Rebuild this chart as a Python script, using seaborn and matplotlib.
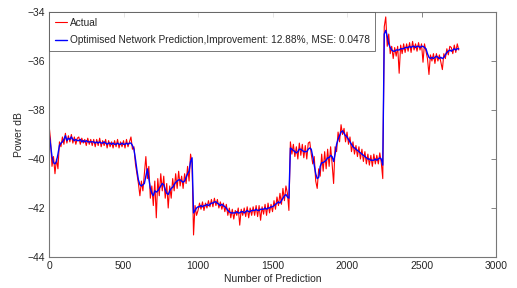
import numpy as np
import pandas as pd
import seaborn as sns
import matplotlib
matplotlib.use('Agg')
import matplotlib.pyplot as plt

# indice de prediccion (cada 10 muestras)
n_prediction = np.arange(0, 2760, 10)

actual = [
    -38.6, -39.2, -40.3, -39.9, -40.6, -40.0, -40.4, -39.3, -39.5, -39.1,      # 0
    -39.4, -38.95, -39.35, -39.05, -39.3, -39.0, -39.35, -39.1, -39.4, -39.15,  # 100
    -39.1, -39.4, -39.15, -39.35, -39.2, -39.45, -39.15, -39.4, -39.2, -39.45,  # 200
    -39.2, -39.5, -39.2, -39.45, -39.15, -39.5, -39.25, -39.45, -39.2, -39.55,  # 300
    -39.25, -39.5, -39.3, -39.55, -39.25, -39.5, -39.2, -39.55, -39.3, -39.5,   # 400
    -39.25, -39.55, -39.2, -39.5, -39.3, -39.1, -39.6, -39.5, -40.2, -40.6,    # 500
    -41.0, -41.5, -40.9, -41.3, -40.6, -39.9, -40.8, -40.3, -41.6, -41.1,      # 600
    -41.9, -40.9, -42.4, -40.8, -41.5, -40.6, -41.3, -40.7, -41.6, -41.0,      # 700
    -42.0, -41.1, -41.6, -40.8, -41.3, -40.6, -41.2, -40.5, -41.1, -40.7,      # 800
    -41.2, -40.6, -41.0, -40.3, -40.9, -39.8, -40.2, -43.1, -41.9, -42.3,      # 900
    -42.1, -41.8, -42.05, -41.75, -42.1, -41.8, -42.0, -41.7, -41.95, -41.65,  # 1000
    -41.95, -41.6, -41.9, -41.65, -42.0, -41.75, -42.05, -41.8, -42.15, -41.85,  # 1100
    -42.3, -42.0, -42.4, -42.05, -42.45, -42.1, -42.3, -42.0, -42.7, -42.05,   # 1200
    -42.3, -42.0, -42.35, -41.95, -42.4, -42.0, -42.3, -41.95, -42.3, -41.9,   # 1300
    -42.35, -41.9, -42.5, -41.95, -42.25, -41.85, -42.3, -41.8, -42.2, -41.85,  # 1400
    -42.15, -41.7, -42.05, -41.55, -41.9, -41.4, -41.85, -41.2, -41.7, -41.1,  # 1500
    -41.4, -42.1, -39.3, -39.8, -39.4, -39.9, -39.5, -40.0, -39.35, -39.85,    # 1600
    -39.4, -39.95, -39.45, -40.0, -39.35, -39.3, -39.8, -40.2, -39.9, -40.9,   # 1700
    -41.2, -40.4, -40.7, -39.8, -40.5, -39.7, -40.4, -39.6, -40.3, -39.5,      # 1800
    -40.2, -41.0, -39.5, -39.7, -38.9, -39.3, -38.6, -39.0, -38.75, -39.3,     # 1900
    -38.9, -39.4, -39.1, -39.7, -39.3, -39.8, -39.45, -39.9, -39.5, -40.0,     # 2000
    -39.6, -40.1, -39.7, -40.2, -39.8, -40.25, -39.85, -40.3, -39.8, -40.2,    # 2100
    -39.85, -40.2, -39.75, -40.15, -40.8, -34.6, -34.2, -35.4, -34.9, -35.7,   # 2200
    -35.4, -35.9, -35.45, -35.8, -35.4, -36.5, -35.35, -35.7, -35.3, -35.65,   # 2300
    -35.3, -35.6, -35.25, -35.65, -35.2, -35.55, -35.3, -35.6, -35.25, -35.55,  # 2400
    -35.3, -36.05, -35.3, -35.6, -35.9, -36.55, -35.75, -36.0, -35.7, -36.1,   # 2500
    -35.7, -36.0, -35.75, -36.05, -36.35, -35.7, -35.9, -35.5, -35.75, -35.4,  # 2600
    -35.45, -35.7, -35.35, -35.65, -35.3, -35.55,                              # 2700
]

# prediccion de la red optimizada (dB)
predicted = [
    -38.95, -39.4, -39.9, -40.15, -40.2, -40.1, -39.8, -39.45, -39.35, -39.3,  # 0
    -39.2, -39.05, -39.25, -39.15, -39.2, -39.1, -39.2, -39.25, -39.2, -39.25,  # 100
    -39.25, -39.2, -39.3, -39.25, -39.3, -39.25, -39.3, -39.3, -39.3, -39.3,  # 200
    -39.3, -39.35, -39.3, -39.35, -39.3, -39.35, -39.35, -39.3, -39.35, -39.4,  # 300
    -39.35, -39.35, -39.4, -39.35, -39.4, -39.4, -39.35, -39.4, -39.4, -39.35,  # 400
    -39.4, -39.4, -39.35, -39.4, -39.35, -39.35, -39.45, -39.6, -40.0, -40.45,  # 500
    -40.85, -41.05, -41.1, -41.05, -41.0, -40.7, -40.4, -40.8, -41.2, -41.4,  # 600
    -41.5, -41.3, -41.35, -41.3, -41.2, -41.1, -41.0, -41.05, -41.25, -41.4,  # 700
    -41.45, -41.3, -41.2, -41.15, -41.05, -40.95, -40.9, -40.85, -40.85, -40.9,  # 800
    -40.95, -40.9, -40.75, -40.6, -40.5, -40.1, -39.95, -42.2, -42.1, -42.0,  # 900
    -41.95, -41.95, -41.9, -41.95, -41.9, -41.9, -41.85, -41.9, -41.85, -41.8,  # 1000
    -41.8, -41.75, -41.75, -41.8, -41.85, -41.9, -41.85, -41.9, -41.95, -42.0,  # 1100
    -42.1, -42.15, -42.2, -42.2, -42.2, -42.2, -42.15, -42.2, -42.2, -42.15,  # 1200
    -42.15, -42.2, -42.15, -42.1, -42.15, -42.15, -42.1, -42.1, -42.1, -42.05,  # 1300
    -42.1, -42.1, -42.05, -42.05, -42.05, -42.0, -42.05, -42.0, -42.0, -41.95,  # 1400
    -41.95, -41.9, -41.85, -41.8, -41.75, -41.8, -41.7, -41.6, -41.5, -41.45,  # 1500
    -41.55, -41.6, -39.55, -39.6, -39.65, -39.7, -39.75, -39.7, -39.6, -39.6,  # 1600
    -39.65, -39.7, -39.7, -39.7, -39.6, -39.55, -39.6, -39.9, -40.25, -40.6,  # 1700
    -40.8, -40.75, -40.3, -40.15, -40.15, -40.1, -40.05, -39.95, -39.95, -39.85,  # 1800
    -39.9, -40.1, -39.8, -39.4, -39.2, -39.05, -38.9, -38.85, -38.95, -39.05,  # 1900
    -39.1, -39.2, -39.3, -39.4, -39.5, -39.55, -39.6, -39.65, -39.7, -39.75,  # 2000
    -39.8, -39.85, -39.9, -39.95, -40.0, -40.0, -40.05, -40.05, -40.05, -40.0,  # 2100
    -40.05, -40.0, -39.95, -40.0, -40.25, -34.9, -34.75, -35.0, -35.3, -35.45,  # 2200
    -35.55, -35.6, -35.6, -35.55, -35.55, -35.55, -35.5, -35.5, -35.5, -35.45,  # 2300
    -35.45, -35.45, -35.4, -35.45, -35.4, -35.4, -35.45, -35.4, -35.4, -35.45,  # 2400
    -35.4, -35.4, -35.45, -35.5, -35.7, -35.85, -35.9, -35.85, -35.9, -35.85,  # 2500
    -35.8, -35.85, -35.9, -35.85, -35.9, -35.85, -35.75, -35.65, -35.6, -35.55,  # 2600
    -35.6, -35.55, -35.5, -35.55, -35.5, -35.5,                                # 2700
]

x_ticks = [0, 500, 1000, 1500, 2000, 2500, 3000]
y_ticks = [-44, -42, -40, -38, -36, -34]

df = pd.DataFrame({'n': n_prediction, 'actual': actual, 'predicted': predicted})

sns.set_style('white')
plt.rcParams['font.family'] = ['Liberation Sans', 'DejaVu Sans']

fig = plt.figure(figsize=(5.17, 2.88), dpi=100)
ax = fig.add_axes([0.0948, 0.1076, 0.8646, 0.8507])

sns.lineplot(x='n', y='actual', data=df, ax=ax, color='#ff0000', lw=0.8,
             estimator=None, sort=False, label='Actual')
sns.lineplot(x='n', y='predicted', data=df, ax=ax, color='#0000ff', lw=1.0,
             estimator=None, sort=False,
             label='Optimised Network Prediction,Improvement: 12.88%, MSE: 0.0478')

ax.set_xlim(0, 3000)
ax.set_ylim(-44, -34)
ax.set_xticks(x_ticks)
ax.set_yticks(y_ticks)
ax.set_xlabel('Number of Prediction', fontsize=7.5, labelpad=2)
ax.set_ylabel('Power dB', fontsize=7.5, labelpad=2)
ax.tick_params(direction='in', length=3.5, width=0.5, labelsize=7.5, color='#555555',
               top=True, right=True, pad=3)
for s in ax.spines.values():
    s.set_color('#777777')
    s.set_linewidth(0.8)

leg = ax.legend(loc='upper left', borderaxespad=0, fontsize=7.3, frameon=True,
                fancybox=False, handlelength=1.25, handletextpad=0.25,
                borderpad=0.55, labelspacing=0.75)
leg.get_frame().set_edgecolor('#555555')
leg.get_frame().set_linewidth(0.7)

fig.savefig('out.png', dpi=100)
